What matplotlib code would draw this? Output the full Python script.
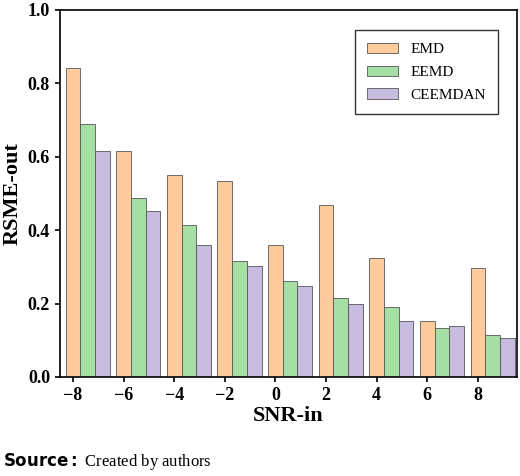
import numpy as np
import matplotlib.pyplot as plt

plt.rcParams['font.family'] = ['Liberation Serif', 'DejaVu Serif']

snr = ['\u22128', '\u22126', '\u22124', '\u22122', '0', '2', '4', '6', '8']
emd = [0.843, 0.615, 0.551, 0.535, 0.360, 0.470, 0.325, 0.152, 0.297]
eemd = [0.690, 0.487, 0.413, 0.315, 0.262, 0.215, 0.192, 0.133, 0.115]
ceemdan = [0.615, 0.453, 0.360, 0.302, 0.248, 0.198, 0.152, 0.138, 0.105]

fig = plt.figure(figsize=(5.2, 4.76), dpi=100)
ax = fig.add_axes([0.115, 0.208, 0.879, 0.771])

x = np.arange(len(snr))
w = 0.29
ax.bar(x, emd, w, color='#fdcb9c', edgecolor='#555555', lw=0.6, label='EMD')
ax.bar(x + w, eemd, w, color='#a6dfa4', edgecolor='#555555', lw=0.6, label='EEMD')
ax.bar(x + 2 * w, ceemdan, w, color='#c8bbe0', edgecolor='#555555', lw=0.6, label='CEEMDAN')

ax.set_xticks(x)
ax.set_xticklabels(snr, fontsize=13)
ax.set_xlim(-0.26, 8.77)
ax.set_ylim(0, 1.0)
ax.set_yticks(np.arange(0, 1.01, 0.2))
ax.set_yticklabels(['%.1f' % v for v in np.arange(0, 1.01, 0.2)], fontsize=13, fontweight='bold')
for t in ax.get_xticklabels():
    t.set_fontweight('bold')
ax.set_xlabel('SNR-in', fontsize=16, fontweight='bold', labelpad=2)
ax.set_ylabel('RSME-out', fontsize=16, fontweight='bold', labelpad=4)
ax.tick_params(direction='out', width=1.2)
for s in ax.spines.values():
    s.set_linewidth(1.2)

ax.legend(loc='upper right', fontsize=11, fancybox=False, edgecolor='black',
          borderpad=0.8, labelspacing=0.6, bbox_to_anchor=(0.975, 0.965))

fig.text(0.005, 0.02, r'$\bf{Source:}$ Created by authors', fontsize=12)
fig.savefig('out.png', dpi=100)
